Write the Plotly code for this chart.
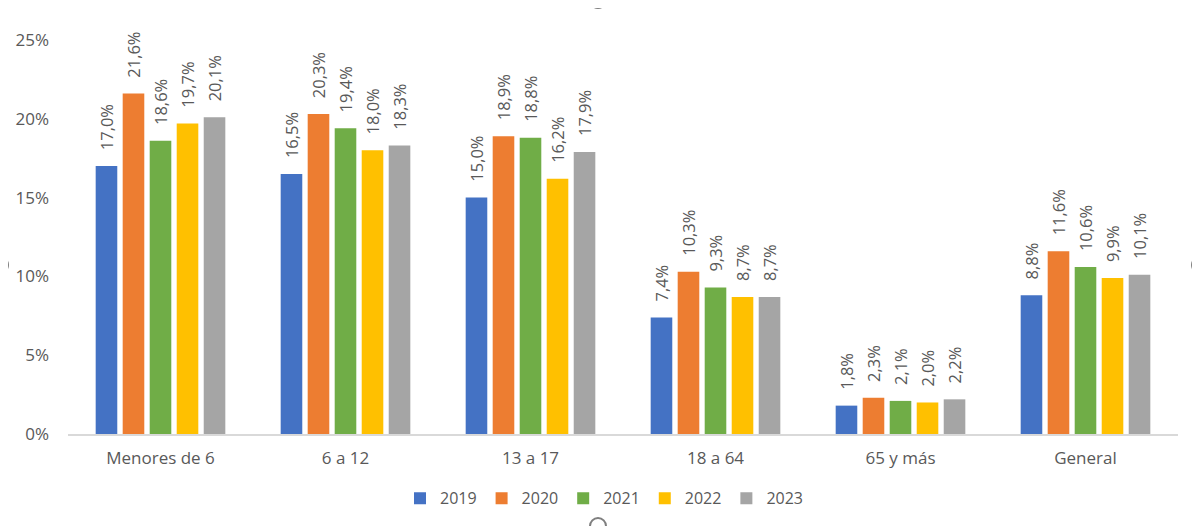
import plotly.graph_objects as go

categories = ["Menores de 6", "6 a 12", "13 a 17", "18 a 64", "65 y más", "General"]
years = ["2019", "2020", "2021", "2022", "2023"]
v2019 = [17.0, 16.5, 15.0, 7.4, 1.8, 8.8]
v2020 = [21.6, 20.3, 18.9, 10.3, 2.3, 11.6]
v2021 = [18.6, 19.4, 18.8, 9.3, 2.1, 10.6]
v2022 = [19.7, 18.0, 16.2, 8.7, 2.0, 9.9]
v2023 = [20.1, 18.3, 17.9, 8.7, 2.2, 10.1]
series = [v2019, v2020, v2021, v2022, v2023]
colors = ["#4472C4", "#ED7D31", "#70AD47", "#FFC000", "#A5A5A5"]
y_ticks = [0, 5, 10, 15, 20, 25]

FONT = "Open Sans, sans-serif"
GREY = "#595959"
PAD = "\u00a0\u00a0\u00a0"

fig = go.Figure()
for name, vals, col in zip(years, series, colors):
    fig.add_trace(go.Bar(
        name=name, x=categories, y=vals, marker_color=col,
        marker_line_width=0,
        text=[PAD + f"{v:.1f}%".replace(".", ",") for v in vals],
        textposition="outside", textangle=-90, constraintext="none",
        textfont=dict(family=FONT, size=16.5, color=GREY),
        cliponaxis=False,
    ))

# page body has an 8px margin; figure is drawn from (8, 8)
OFF = 8
W, H = 1200 - OFF, 526 - OFF
L, R, T, B = 68 - OFF, 22, 40 - OFF, 92
pw, ph = W - L - R, H - T - B

def px2paper(px, py):
    px -= OFF
    py -= OFF
    return (px - L) / pw, (H - B - py) / ph

shapes = []
for cx, cy in [(598, 0), (0, 265), (1200, 265), (598, 526)]:
    x0, y0 = px2paper(cx - 8, cy + 8)
    x1, y1 = px2paper(cx + 8, cy - 8)
    shapes.append(dict(type="circle", xref="paper", yref="paper",
                       x0=x0, y0=y0, x1=x1, y1=y1,
                       line=dict(color="#7f7f7f", width=2), fillcolor="white"))

lx, _ = px2paper(604, 0)
fig.update_layout(
    width=W, height=H,
    margin=dict(l=L, r=R, t=T, b=B, autoexpand=False),
    paper_bgcolor="white", plot_bgcolor="white",
    barmode="group", bargap=0.27, bargroupgap=0.2,
    font=dict(family=FONT, color=GREY, size=16),
    showlegend=True,
    legend=dict(orientation="h", x=lx, xanchor="center",
                y=-0.12, yanchor="top",
                font=dict(family=FONT, size=16, color=GREY),
                itemwidth=30, tracegroupgap=0),
    shapes=shapes,
)
fig.update_xaxes(showline=True, linecolor="#D9D9D9", linewidth=1.5,
                 tickfont=dict(family=FONT, size=17, color=GREY),
                 ticks="", ticklabelstandoff=8, fixedrange=True, tickangle=0)
fig.update_yaxes(range=[0, 25], tickvals=y_ticks,
                 ticktext=[f"{t}%" for t in y_ticks],
                 showgrid=False, zeroline=False, showline=False,
                 tickfont=dict(family=FONT, size=17, color=GREY),
                 ticklabelstandoff=18)

fig.write_html("out.html")
